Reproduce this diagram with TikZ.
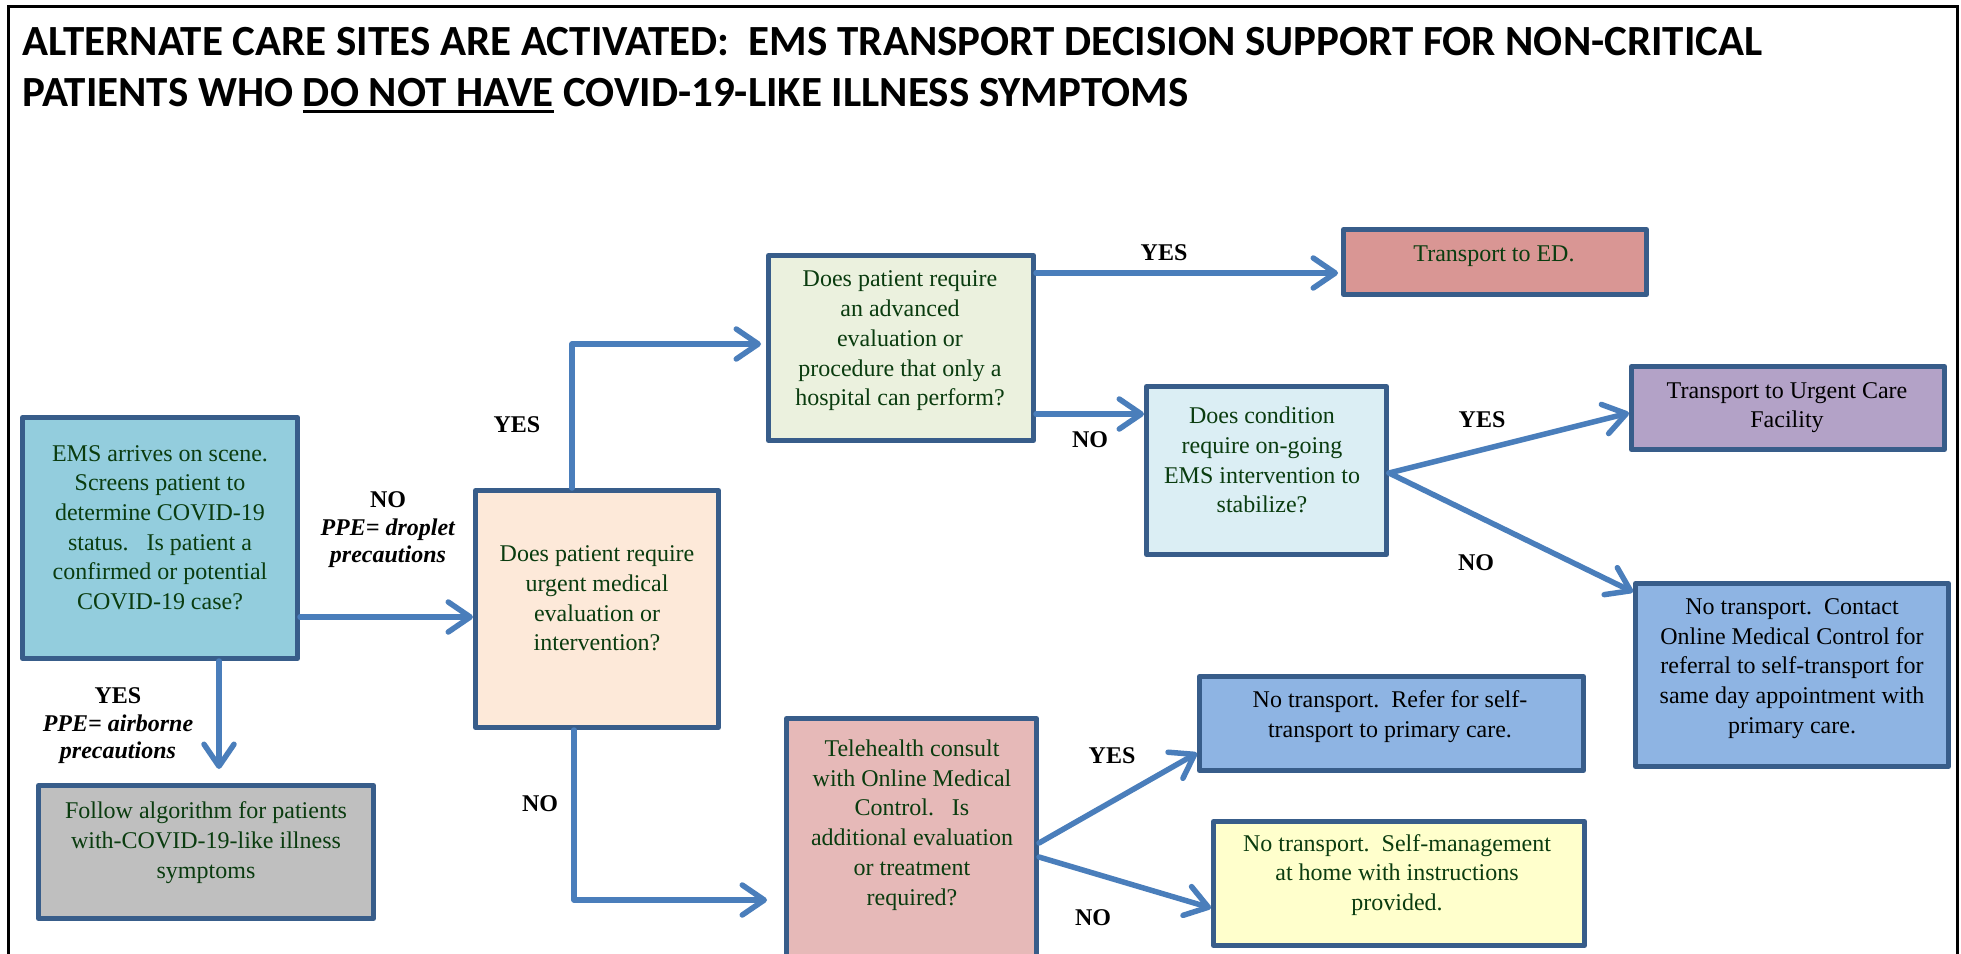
\documentclass[tikz,border=0pt]{standalone}
\usepackage{fontspec}
\setmainfont{Liberation Serif}
\newfontfamily\titlefont{Carlito}
\usetikzlibrary{arrows.meta,calc}
\definecolor{boxborder}{HTML}{385D8A}
\definecolor{connblue}{HTML}{4A7EBB}
\definecolor{textgreen}{RGB}{10,60,15}
\definecolor{emsfill}{HTML}{93CDDD}
\definecolor{urgfill}{HTML}{FDE9D9}
\definecolor{advfill}{HTML}{EBF1DE}
\definecolor{edfill}{HTML}{D99694}
\definecolor{condfill}{HTML}{DBEEF4}
\definecolor{ucfill}{HTML}{B3A2C7}
\definecolor{bluefill}{HTML}{8EB4E3}
\definecolor{grayfill}{HTML}{BFBFBF}
\definecolor{telefill}{HTML}{E6B9B8}
\definecolor{yellowfill}{HTML}{FFFFCC}
\newcommand{\myul}[1]{\setbox0\hbox{#1}\rlap{\rule[-7pt]{\wd0}{3pt}}\box0\relax}
\begin{document}
\begin{tikzpicture}[x=1pt,y=-1pt,
  box/.style={draw=boxborder, line width=5pt, line join=round, inner sep=0pt},
  conn/.style={draw=connblue, line width=5.5pt, line cap=round, line join=round,
    -{Straight Barb[length=22pt,width=30pt,line cap=round,line join=round]}},
  txt/.style={align=center, font=\fontsize{24}{29.7}\selectfont, text=textgreen, inner sep=0pt},
  txtb/.style={txt, text=black},
  lbl/.style={align=center, font=\fontsize{24}{27.5}\selectfont\bfseries, inner sep=0pt},
  ttl/.style={anchor=base west, inner sep=0pt, font=\titlefont\bfseries\fontsize{43}{51}\selectfont}]
\useasboundingbox (0,0) rectangle (1961,953);
\fill[white] (0,0) rectangle (1961,953);
\draw[black, line width=3pt] (8,6) rectangle (1957,990);

% title
\node[ttl] (title1) at (22,55) {ALTERNATE CARE SITES ARE ACTIVATED:\ \ EMS TRANSPORT DECISION SUPPORT FOR NON-CRITICAL};
\node[ttl] (title2) at (22,106) {PATIENTS WHO \myul{DO NOT HAVE} COVID-19-LIKE ILLNESS SYMPTOMS};

% boxes
\node[box, fill=emsfill, minimum width=275pt, minimum height=241pt] (ems) at (160,538) {};
\node[box, fill=urgfill, minimum width=243pt, minimum height=237pt] (urg) at (597,609) {};
\node[box, fill=advfill, minimum width=265pt, minimum height=185pt] (adv) at (901,348) {};
\node[box, fill=edfill, minimum width=303pt, minimum height=65pt] (ed) at (1495,262) {};
\node[box, fill=condfill, minimum width=240pt, minimum height=168pt] (cond) at (1266.5,470.5) {};
\node[box, fill=ucfill, minimum width=313pt, minimum height=83pt] (uc) at (1788,408) {};
\node[box, fill=bluefill, minimum width=313pt, minimum height=183pt] (contact) at (1792,675) {};
\node[box, fill=grayfill, minimum width=335pt, minimum height=133pt] (gray) at (206,852) {};
\node[box, fill=telefill, minimum width=250pt, minimum height=259pt] (tele) at (911.5,848) {};
\node[box, fill=bluefill, minimum width=384pt, minimum height=94pt] (refer) at (1391.5,723.5) {};
\node[box, fill=yellowfill, minimum width=371pt, minimum height=124pt] (yellow) at (1399,883.5) {};

% box texts
\node[txt] (tEms) at (160,527.5) {EMS arrives on scene.\\Screens patient to\\determine COVID-19\\status.\ \ \ Is patient a\\confirmed or potential\\COVID-19 case?};
\node[txt] (tUrg) at (597,598.5) {Does patient require\\urgent medical\\evaluation or\\intervention?};
\node[txt] (tAdv) at (900,341) {Does patient require\\an advanced\\evaluation or\\procedure that only a\\hospital can perform?};
\node[txt] (tEd) at (1494,256) {Transport to ED.};
\node[txt] (tCond) at (1262,460) {Does condition\\require on-going\\EMS intervention to\\stabilize?};
\node[txtb] (tUc) at (1787,407.5) {Transport to Urgent Care\\Facility};
\node[txtb] (tContact) at (1792,668.5) {No transport.\ \ Contact\\Online Medical Control for\\referral to self-transport for\\same day appointment with\\primary care.};
\node[txt] (tGray) at (206,842.5) {Follow algorithm for patients\\with-COVID-19-like illness\\symptoms};
\node[txt] (tTele) at (912,825) {Telehealth consult\\with Online Medical\\Control.\ \ \ Is\\additional evaluation\\or treatment\\required?};
\node[txtb] (tRefer) at (1390,716.5) {No transport.\ \ Refer for self-\\transport to primary care.};
\node[txt] (tYellow) at (1397,875) {No transport.\ \ Self-management\\at home with instructions\\provided.};

% connectors
\draw[conn] (ems.east |- 0,617) -- (urg.west |- 0,617);
\draw[conn, shorten >=14pt] (ems.south -| 219,0) -- (gray.north -| 219,0);
\draw[conn, shorten >=5pt] (urg.north -| 572,0) |- (adv.west |- 0,344);
\draw[conn, shorten >=17pt] (urg.south -| 574,0) |- (tele.west |- 0,900);
\draw[conn, shorten >=3pt] (adv.east |- 0,273) -- (ed.west |- 0,273);
\draw[conn] (adv.east |- 0,414) -- (cond.west |- 0,414);
\draw[conn] (cond.east |- 0,473) -- (uc.west |- 0,413);
\draw[conn] (cond.east |- 0,473) -- (contact.west |- 0,592);
\draw[conn] (tele.east |- 0,843) -- (refer.west |- 0,753);
\draw[conn] (tele.east |- 0,857) -- (yellow.west |- 0,908);

% labels
\node[lbl] (lNo1) at (388,530) {NO\\\textit{PPE= droplet}\\\textit{precautions}};
\node[lbl] (lYes1) at (118,726) {YES\\\textit{PPE= airborne}\\\textit{precautions}};
\node[lbl] (lYes2) at (517,425) {YES};
\node[lbl] (lNo2) at (540,804) {NO};
\node[lbl] (lYes3) at (1164,253) {YES};
\node[lbl] (lNo3) at (1090,440) {NO};
\node[lbl] (lYes4) at (1482,420) {YES};
\node[lbl] (lNo4) at (1476,563) {NO};
\node[lbl] (lYes5) at (1112,756) {YES};
\node[lbl] (lNo5) at (1093,918) {NO};
\end{tikzpicture}
\end{document}
